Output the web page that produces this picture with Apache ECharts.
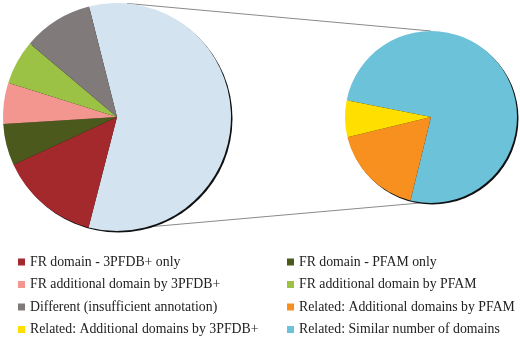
<!DOCTYPE html>
<html>
<head>
<meta charset="utf-8">
<script src="https://cdn.jsdelivr.net/npm/echarts@6/dist/echarts.min.js"></script>
<style>
  html, body { margin: 0; padding: 0; background: #fff; }
  #chart { width: 520px; height: 338px; }
</style>
</head>
<body>
<div id="chart"></div>
<script>
  // left pie: "Related" aggregate first, then the FR / Different slices (percent of all)
  var leftNames = ['Related', 'FR domain - 3PFDB+ only', 'FR domain - PFAM only',
    'FR additional domain by 3PFDB+', 'FR additional domain by PFAM', 'Different (insufficient annotation)'];
  var leftValues = [57.9, 14.1, 5.9, 5.8, 6.3, 9.9];
  var leftColors = ['#D3E3F0', '#A4292C', '#4B5A1C', '#F3968F', '#9CC245', '#807A7A'];

  // right pie: breakdown of "Related" (percent of the related part)
  var rightNames = ['Related: Similar number of domains', 'Related: Additional domains by PFAM',
    'Related: Additional domains by 3PFDB+'];
  var rightValues = [75.7, 17.4, 6.9];
  var rightColors = ['#6CC2D8', '#F7901E', '#FFDF00'];

  // legend columns
  var legendLeft = ['FR domain - 3PFDB+ only', 'FR additional domain by 3PFDB+',
    'Different (insufficient annotation)', 'Related: Additional domains by 3PFDB+'];
  var legendRight = ['FR domain - PFAM only', 'FR additional domain by PFAM',
    'Related: Additional domains by PFAM', 'Related: Similar number of domains'];

  var L = { x: 117, y: 117, r: 114 };
  var R = { x: 431, y: 117, r: 86 };

  function pt(c, deg) {
    // deg clockwise from 12 o'clock
    var a = deg * Math.PI / 180;
    return [c.x + c.r * Math.sin(a), c.y - c.r * Math.cos(a)];
  }

  var myChart = echarts.init(document.getElementById('chart'));

  function mk(names, values, colors) {
    return names.map(function (n, i) {
      return { name: n, value: values[i], itemStyle: { color: colors[i] } };
    });
  }

  var txt = { fontFamily: 'Liberation Serif', fontSize: 13.8, color: '#222', lineHeight: 14 };

  var option = {
    animation: false,
    legend: [
      {
        orient: 'vertical', left: 18, top: 255, height: 120, padding: 0, itemGap: 8.5,
        itemWidth: 7, itemHeight: 7, icon: 'rect',
        textStyle: txt, data: legendLeft, selectedMode: false
      },
      {
        orient: 'vertical', left: 287, top: 255, height: 120, padding: 0, itemGap: 8.5,
        itemWidth: 7, itemHeight: 7, icon: 'rect',
        textStyle: txt, data: legendRight, selectedMode: false
      }
    ],
    graphic: [
      {
        type: 'polyline', z: -1, silent: true,
        shape: { points: [pt(L, 5), pt(R, 0)] },
        style: { stroke: '#8a8a8a', lineWidth: 1, fill: null }
      },
      {
        type: 'polyline', z: -1, silent: true,
        shape: { points: [pt(L, 165), pt(R, 185)] },
        style: { stroke: '#8a8a8a', lineWidth: 1, fill: null }
      }
    ],
    series: [
      {
        // dark edge under the left pie
        type: 'pie', silent: true, z: 1,
        center: [L.x + 1.5, L.y + 1.5], radius: L.r,
        label: { show: false }, labelLine: { show: false },
        itemStyle: { color: '#111' },
        data: [{ name: '_edgeL', value: 1 }]
      },
      {
        type: 'pie', silent: true, z: 1,
        center: [R.x + 1.5, R.y + 1.5], radius: R.r,
        label: { show: false }, labelLine: { show: false },
        itemStyle: { color: '#111' },
        data: [{ name: '_edgeR', value: 1 }]
      },
      {
        type: 'pie', z: 2,
        center: [L.x, L.y], radius: L.r,
        startAngle: 104.2, clockwise: true,
        label: { show: false }, labelLine: { show: false },
        emphasis: { disabled: true },
        itemStyle: { borderWidth: 0 },
        data: mk(leftNames, leftValues, leftColors)
      },
      {
        type: 'pie', z: 2,
        center: [R.x, R.y], radius: R.r,
        startAngle: 168.7, clockwise: true,
        label: { show: false }, labelLine: { show: false },
        emphasis: { disabled: true },
        itemStyle: { borderWidth: 0 },
        data: mk(rightNames, rightValues, rightColors)
      }
    ]
  };

  myChart.setOption(option);
</script>
</body>
</html>
